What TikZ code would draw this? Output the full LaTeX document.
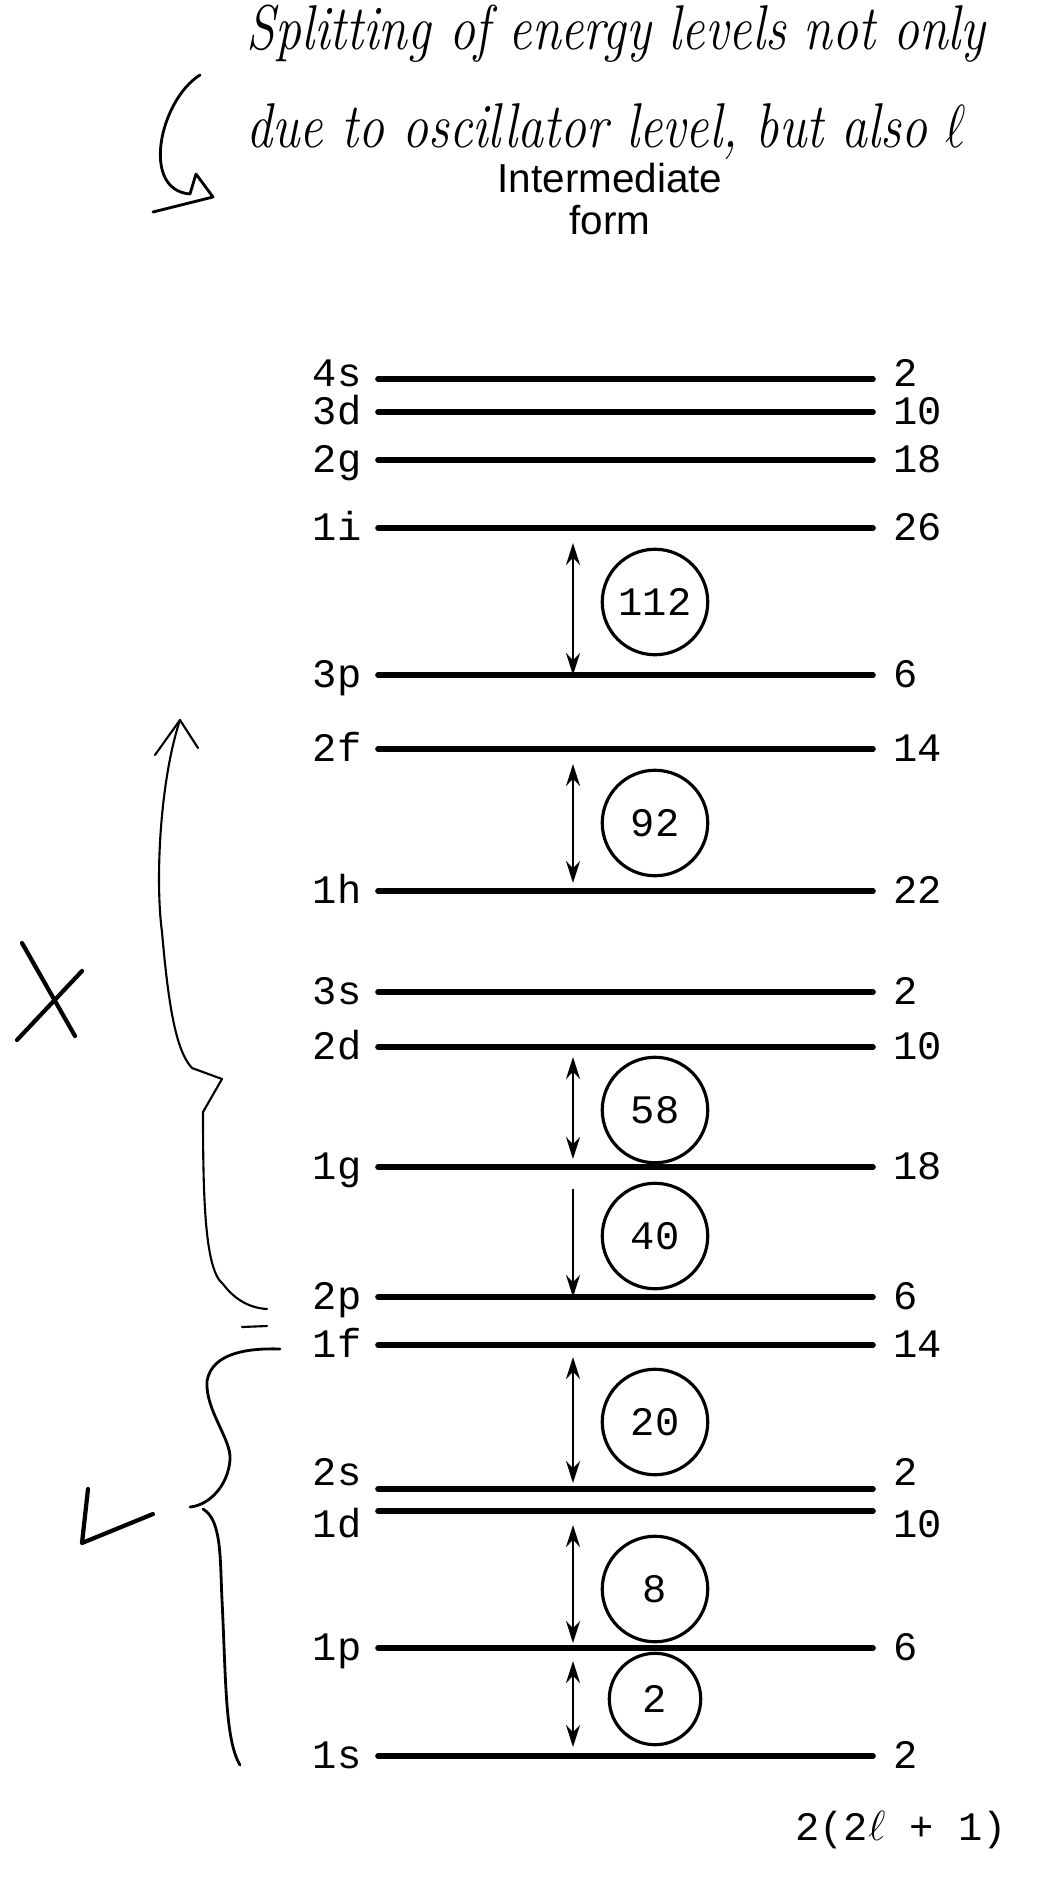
\documentclass[tikz,border=0pt]{standalone}
\usepackage{fontspec}
\setmonofont{Liberation Mono}
\setsansfont{Liberation Sans}
\usetikzlibrary{arrows.meta, calc}
\tikzset{
  level/.style={line width=1.6pt, line cap=round},
  orb/.style={font=\fontsize{11.5}{12}\selectfont\ttfamily, inner sep=0pt,
    text height=7.2pt, text depth=0pt},
  orbl/.style={orb, anchor=east},
  deg/.style={orb, anchor=west},
  shell/.style={circle, draw, line width=0.9pt, minimum size=30pt, inner sep=0pt,
    font=\fontsize{11.5}{12}\selectfont\ttfamily},
  gap/.style={{Stealth[length=2.2mm, width=1.4mm]}-{Stealth[length=2.2mm, width=1.4mm]},
    line width=0.5pt},
  gapdown/.style={-{Stealth[length=2.2mm, width=1.4mm]}, line width=0.5pt},
  head/.style={font=\fontsize{11.5}{12}\selectfont\sffamily, align=center},
  hand/.style={font=\fontsize{18}{20}\selectfont\itshape, anchor=base west, inner sep=0pt,
    xscale=0.82, transform shape},
  pen/.style={line width=0.8pt, line cap=round, line join=round},
}
\begin{document}
\begin{tikzpicture}[x=0.01cm, y=-0.01cm]
  \useasboundingbox (0,0) rectangle (1040,1882);

  % handwritten note
  \node[hand] (note1) at (246,50) {Splitting of energy levels not only};
  \node[hand] (note2) at (246,148) {due to oscillator level, but also $\ell$};
  \draw[pen] (200,75) .. controls (160,100) and (140,190) .. (190,194)
    -- (196,174) -- (213,197) -- (153,212);

  \node[head] (title) at (610,199) {Intermediate\\form};

  % levels
  \foreach \lab/\y/\deg/\dy in {4s/379/2/-5, 3d/412/10/0, 2g/460/18/0, 1i/528/26/0,
      3p/675/6/0, 2f/749/14/0, 1h/891/22/0, 3s/992/2/0, 2d/1047/10/0, 1g/1167/18/0,
      2p/1297/6/0, 1f/1345/14/0, 2s/1489/2/-16, 1d/1511/10/14, 1p/1648/6/0, 1s/1756/2/0} {
    \coordinate (a\lab) at (378,\y);
    \coordinate (b\lab) at (873,\y);
    \coordinate (m\lab) at (573,\y);
    \draw[level] (a\lab) -- (b\lab);
    \node[orbl] (n\lab) at (362,{\y+\dy}) {\lab};
    \node[deg] (g\lab) at (893,{\y+\dy}) {\deg};
  }

  % shell gaps
  \draw[gap] ($(m1i)+(0,15)$) -- (m3p);
  \draw[gap] ($(m2f)+(0,15)$) -- ($(m1h)+(0,-8)$);
  \draw[gap] ($(m2d)+(0,10)$) -- ($(m1g)+(0,-8)$);
  \draw[gapdown] ($(m1g)+(0,22)$) -- (m2p);
  \draw[gap] ($(m1f)+(0,12)$) -- ($(m2s)+(0,-6)$);
  \draw[gap] ($(m1d)+(0,14)$) -- ($(m1p)+(0,-5)$);
  \draw[gap] ($(m1p)+(0,13)$) -- ($(m1s)+(0,-9)$);

  \node[shell] (s112) at (655,602) {112};
  \node[shell] (s92) at (655,823) {92};
  \node[shell] (s58) at (655,1110) {58};
  \node[shell] (s40) at (655,1236) {40};
  \node[shell] (s20) at (655,1422) {20};
  \node[shell] (s8) at (655,1589) {8};
  \node[shell, minimum size=26pt] (s2) at (655,1699) {2};

  \node[orb] (rule) at (901,1828) {2(2$\ell$ + 1)};

  % margin marks
  \draw[pen, line width=0.6pt] (155,755) -- (180,720) -- (198,748);
  \draw[pen, line width=0.6pt] (180,720) .. controls (160,780) and (155,880) .. (162,932)
    .. controls (168,1000) and (175,1050) .. (192,1068) -- (222,1079) -- (203,1112)
    .. controls (203,1200) and (205,1270) .. (223,1284)
    .. controls (235,1300) and (250,1308) .. (267,1309);
  \draw[pen, line width=0.6pt] (242,1327) -- (267,1326);
  \draw[pen] (280,1349) .. controls (250,1348) and (212,1352) .. (207,1381)
    .. controls (205,1410) and (232,1440) .. (230,1460)
    .. controls (228,1485) and (210,1505) .. (190,1507);
  \draw[pen] (203,1509) .. controls (222,1520) and (220,1560) .. (222,1600)
    .. controls (226,1680) and (225,1740) .. (240,1765);
  \draw[pen, line width=1.2pt] (22,943) -- (75,1036);
  \draw[pen, line width=1.2pt] (17,1040) -- (82,971);
  \draw[pen, line width=1.2pt] (88,1489) -- (82,1543) -- (153,1514);
\end{tikzpicture}
\end{document}
